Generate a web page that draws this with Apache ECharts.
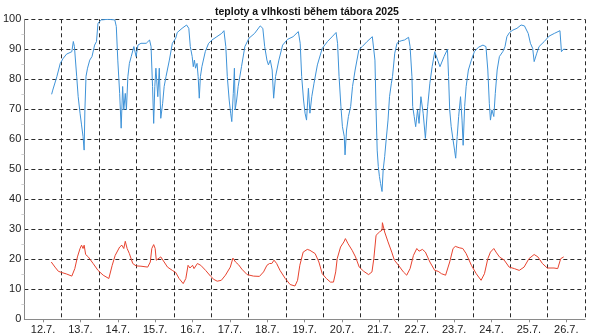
<!DOCTYPE html>
<html>
<head>
<meta charset="utf-8">
<script src="https://cdn.jsdelivr.net/npm/echarts@6/dist/echarts.min.js"></script>
<style>html,body{margin:0;padding:0;background:#fff}#c{width:590px;height:336px}</style>
</head>
<body>
<div id="c"></div>
<script>
var dayLabels = ["12.7.","13.7.","14.7.","15.7.","16.7.","17.7.","18.7.","19.7.","20.7.","21.7.","22.7.","23.7.","24.7.","25.7.","26.7."];
var yTicks = [0,10,20,30,40,50,60,70,80,90,100];

// humidity (%) : time in days (day.fraction), value
var humT = [12.73,12.76,12.87,12.96,13.04,13.13,13.27,13.31,13.34,13.40,13.44,13.49,13.53,13.57,13.60,13.62,13.65,13.69,13.75,13.81,13.88,13.93,13.97,14.06,14.24,14.42,14.46,14.50,14.55,14.59,14.63,14.66,14.70,14.73,14.77,14.81,14.86,14.93,14.99,15.04,15.12,15.26,15.35,15.39,15.43,15.46,15.49,15.52,15.57,15.61,15.65,15.70,15.74,15.79,15.88,15.96,16.05,16.09,16.22,16.34,16.40,16.44,16.49,16.52,16.55,16.58,16.62,16.65,16.68,16.71,16.75,16.84,16.93,17.02,17.15,17.28,17.34,17.39,17.43,17.48,17.52,17.55,17.59,17.62,17.64,17.68,17.72,17.81,17.90,18.01,18.16,18.31,18.38,18.43,18.49,18.53,18.58,18.63,18.67,18.72,18.81,18.91,19.04,19.19,19.33,19.38,19.42,19.47,19.51,19.55,19.60,19.64,19.69,19.75,19.84,19.97,20.11,20.25,20.34,20.38,20.42,20.47,20.51,20.56,20.58,20.62,20.67,20.73,20.78,20.85,20.95,21.04,21.17,21.31,21.35,21.38,21.41,21.44,21.47,21.50,21.53,21.57,21.60,21.64,21.68,21.73,21.77,21.82,21.85,21.91,21.97,22.03,22.10,22.17,22.28,22.32,22.37,22.39,22.43,22.47,22.52,22.56,22.61,22.67,22.73,22.79,22.85,22.91,22.98,23.03,23.12,23.23,23.32,23.35,23.38,23.42,23.47,23.51,23.54,23.58,23.62,23.67,23.71,23.74,23.78,23.82,23.88,23.96,24.04,24.15,24.27,24.35,24.40,24.44,24.47,24.51,24.56,24.60,24.65,24.71,24.80,24.86,24.91,24.98,25.07,25.18,25.29,25.38,25.48,25.54,25.60,25.64,25.71,25.77,25.91,26.04,26.18,26.33,26.37,26.42,26.48];
var humV = [75,76.4,80.9,85.3,87,88.4,89.2,92.6,90.9,81,74.2,68.7,64.8,60.9,56.4,69.8,81,83.7,86.4,87.6,91.4,92.6,98.7,99.8,100,99.8,97.6,86.4,75.3,63.7,77.6,69.8,75.3,69.8,80.9,85.3,87.6,90.9,87.6,91.4,92,92,93.1,90.9,77.6,65.3,77.6,83.7,74.2,83.7,67,72,77.6,80.9,86.4,92,93.7,95.6,97,98.1,97,90.9,87.6,84.2,86.4,83.7,85.3,80.9,73.7,80.9,84.2,89.2,92,93.1,94.2,95.3,96.2,90.9,80.9,73.1,68.7,65.9,75.3,83.7,69.8,73.1,77.6,84.2,90.9,93.7,95.3,97.8,97,90.9,86.4,84.8,86.4,83.1,73.7,80.9,86.4,91.4,93.3,94.2,95.9,92,80.9,73.1,68.7,66.4,77,68.7,74.2,78.7,84.8,90.3,92.6,94.4,95.6,92,80.9,70.9,64.2,60.9,54.8,63.1,67.6,70.9,77.6,83.1,89.8,90.9,92.6,94.2,94.8,86.4,69.8,56.4,50.9,47.6,45.3,42.6,49.8,54.2,59.8,66.4,74.2,78.7,80.9,88.7,92,92.6,92.9,93.1,94,90.9,80.9,70.9,67.6,64.2,69.8,65.3,74.2,68.7,60.3,70.9,78.7,84.2,89.2,89.8,84.2,87.6,90,80.9,69.8,64.2,59.8,56.4,53.7,60.9,67.6,74.2,66.4,58,71,77.6,83.1,86.4,89.2,90.7,91.4,90.9,83.1,72,66.4,69.8,67.6,75.3,83.1,87.6,89.2,90.9,94.2,95.6,96.4,97,98.1,97.8,95.3,92,90.3,85.9,88.7,90.9,92.6,94.4,95.3,96.2,89.2,90,90];

// temperature (°C)
var tmpT = [12.72,12.82,12.91,13.00,13.13,13.27,13.35,13.42,13.49,13.53,13.57,13.60,13.64,13.71,13.84,13.97,14.11,14.26,14.35,14.43,14.55,14.61,14.66,14.70,14.75,14.81,14.90,14.99,15.12,15.30,15.37,15.41,15.46,15.50,15.53,15.58,15.65,15.70,15.74,15.83,15.96,16.05,16.14,16.25,16.32,16.38,16.43,16.50,16.54,16.63,16.72,16.85,16.98,17.07,17.16,17.27,17.38,17.51,17.58,17.65,17.73,17.82,17.96,18.13,18.29,18.40,18.49,18.56,18.62,18.68,18.75,18.84,18.98,19.11,19.24,19.31,19.37,19.46,19.57,19.64,19.69,19.78,19.88,19.97,20.08,20.19,20.27,20.33,20.37,20.46,20.55,20.59,20.66,20.77,20.86,20.96,21.08,21.21,21.30,21.35,21.41,21.50,21.57,21.58,21.64,21.73,21.83,21.90,22.01,22.14,22.23,22.32,22.41,22.50,22.56,22.65,22.73,22.85,22.98,23.07,23.16,23.27,23.38,23.47,23.53,23.65,23.73,23.82,23.96,24.09,24.22,24.31,24.40,24.47,24.56,24.62,24.71,24.84,24.97,25.11,25.24,25.37,25.50,25.64,25.74,25.86,25.99,26.17,26.27,26.35,26.43];
var tmpV = [19.1,17.4,16,15.6,15.1,14.4,16.9,20.8,23.6,24.7,23.6,24.7,21.6,20.8,18.6,16.3,14.7,13.6,18,21.3,24.1,24.7,23.6,26,23.6,21.9,18.6,17.8,17.7,17.4,19.1,23.6,24.9,23.6,19.7,19.1,20.8,21.1,19.1,17.4,16.3,15.6,13.6,11.9,13.6,18,17.1,18,16.9,18.6,18,16.3,14.4,13.3,12.7,13,14.7,17.4,20.4,19.1,18.2,16.7,14.9,14.4,14.3,15.8,18,18.6,18.6,19.7,18.6,16.3,13.6,11.6,11.1,13,18,22.4,23.3,23,23,21.9,19.1,15.2,13.6,12.4,12.4,15.8,20.2,24.1,25.8,26.9,25.2,23,20.8,17.4,16,14.9,15.8,20.2,28,29.1,29.7,32.2,29.1,25.8,22.4,19.7,18,15.8,14.7,16.9,21.3,23.6,22.7,23.3,22.4,19.1,16.3,16,15.2,14.7,19.1,23.6,24.3,23.8,23.6,21.9,18,15.2,13,15.2,20.2,22.4,23.6,22.4,20.8,19.7,17.4,16.9,16.3,17.4,20.2,21.6,20.8,18.6,17.1,17.1,16.9,20.2,20.8];

function pairs(t, v) { return t.map(function (x, i) { return [x, v[i]]; }); }

var chart = echarts.init(document.getElementById('c'), null, {renderer: 'canvas'});
var font = 'Liberation Sans';
var dash = {type: [4, 3], color: '#2a2a2a', width: 1};
chart.setOption({
  animation: false,
  backgroundColor: '#fff',
  title: {
    text: 'teploty a vlhkosti během tábora 2025',
    left: 210, top: 2,
    textStyle: {fontFamily: font, fontSize: 10.5, fontWeight: 'bold', color: '#111'}
  },
  grid: {left: 20, right: 5, top: 19.3, bottom: 16.7, containLabel: false},
  xAxis: [
    {
      type: 'value', min: 12, max: 27, interval: 1,
      axisLine: {show: false}, axisTick: {show: false}, axisLabel: {show: false},
      splitLine: {show: true, lineStyle: dash}
    },
    {
      type: 'category', data: dayLabels, boundaryGap: true, position: 'bottom',
      axisLine: {show: true, lineStyle: {color: '#8a8a8a', width: 1}},
      axisTick: {show: true, alignWithLabel: true, length: 3, lineStyle: {color: '#8a8a8a'}},
      axisLabel: {show: true, interval: 0, margin: 5, fontFamily: font, fontSize: 11, color: '#222'},
      splitLine: {show: false}
    }
  ],
  yAxis: {
    type: 'value', min: yTicks[0], max: yTicks[yTicks.length - 1], interval: 10,
    axisLine: {show: true, lineStyle: {color: '#8a8a8a', width: 1}},
    axisTick: {show: false},
    minorTick: {show: true, splitNumber: 2, length: 3, lineStyle: {color: '#d0d0d0'}},
    axisLabel: {margin: 3, fontFamily: font, fontSize: 11, color: '#222'},
    splitLine: {show: true, lineStyle: dash}
  },
  series: [
    {
      name: 'vlhkost', type: 'line', xAxisIndex: 0, data: pairs(humT, humV),
      showSymbol: false, symbol: 'none', lineStyle: {color: '#3f93d8', width: 1}, z: 3
    },
    {
      name: 'teplota', type: 'line', xAxisIndex: 0, data: pairs(tmpT, tmpV),
      showSymbol: false, symbol: 'none', lineStyle: {color: '#e8432f', width: 1}, z: 3
    }
  ]
});
</script>
</body>
</html>
